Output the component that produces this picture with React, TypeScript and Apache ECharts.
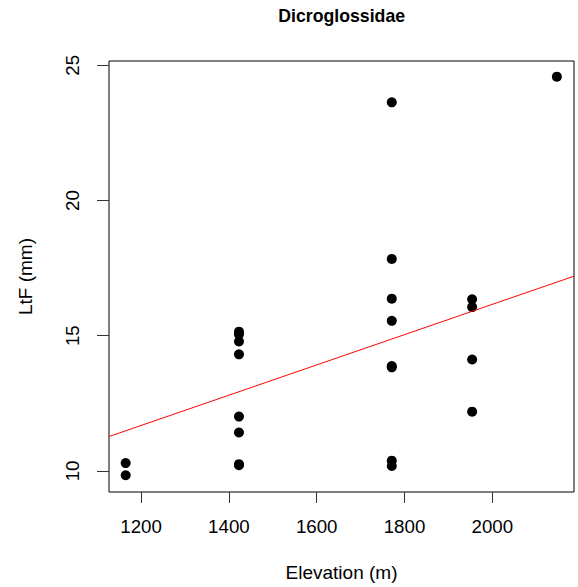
import React, { useEffect, useRef } from "react";
import * as echarts from "echarts";

const titleText = "Dicroglossidae";
const xName = "Elevation (m)";
const yName = "LtF (mm)";
const xTicks = [1200, 1400, 1600, 1800, 2000];
const yTicks = [10, 15, 20, 25];
const xRange = [1127, 2186];
const yRange = [9.22, 25.16];

const elevation = [
  1165, 1165,
  1423, 1423, 1423, 1423, 1423, 1423, 1423, 1423,
  1771, 1771, 1771, 1771, 1771, 1771, 1771, 1771,
  1954, 1954, 1954, 1954,
  2147,
];
const ltf = [
  10.29, 9.84,
  15.15, 15.05, 14.79, 14.31, 12.01, 11.42, 10.25, 10.21,
  23.63, 17.84, 16.37, 15.55, 13.88, 13.83, 10.38, 10.18,
  16.35, 16.06, 14.12, 12.19,
  24.58,
];
// fitted regression line: y = intercept + slope * x
const fitIntercept = 4.96;
const fitSlope = 0.0056;

const FONT = "'Liberation Sans', Arial, sans-serif";

export default function App() {
  const ref = useRef<HTMLDivElement>(null);
  useEffect(() => {
    if (!ref.current) return;
    document.body.style.margin = "0";
    const chart = echarts.init(ref.current, undefined, { renderer: "svg" });
    const points = elevation.map((x, i) => [x, ltf[i]]);
    const fitLine = xRange.map((x) => [x, fitIntercept + fitSlope * x]);
    chart.setOption({
      animation: false,
      backgroundColor: "#ffffff",
      textStyle: { fontFamily: FONT },
      grid: {
        left: 109,
        top: 61,
        width: 465,
        height: 431,
        show: true,
        borderColor: "#000",
        borderWidth: 1,
        backgroundColor: "transparent",
      },
      graphic: [
        {
          type: "text",
          x: 341.7,
          y: 16,
          style: {
            text: titleText,
            fontFamily: FONT,
            fontWeight: "bold",
            fontSize: 17.7,
            fill: "#000",
            align: "center",
            verticalAlign: "middle",
          },
        },
      ],
      xAxis: {
        type: "value",
        min: xRange[0],
        max: xRange[1],
        name: xName,
        nameLocation: "middle",
        nameGap: 71,
        nameTextStyle: { fontFamily: FONT, fontSize: 19, color: "#000" },
        axisLine: { show: false },
        splitLine: { show: false },
        axisTick: {
          show: true,
          inside: false,
          length: 11,
          customValues: xTicks,
          lineStyle: { color: "#333", width: 1 },
        },
        axisLabel: {
          show: true,
          customValues: xTicks,
          formatter: (v: number) => String(v),
          margin: 25,
          fontFamily: FONT,
          fontSize: 18.7,
          color: "#000",
        },
      },
      yAxis: {
        type: "value",
        min: yRange[0],
        max: yRange[1],
        name: yName,
        nameLocation: "middle",
        nameGap: 74,
        nameRotate: 90,
        nameTextStyle: { fontFamily: FONT, fontSize: 19, color: "#000" },
        axisLine: { show: false },
        splitLine: { show: false },
        axisTick: {
          show: true,
          inside: false,
          length: 12,
          customValues: yTicks,
          lineStyle: { color: "#333", width: 1 },
        },
        axisLabel: {
          show: true,
          customValues: yTicks,
          formatter: (v: number) => String(v),
          rotate: 90,
          margin: 27,
          fontFamily: FONT,
          fontSize: 18.7,
          color: "#000",
        },
      },
      series: [
        {
          type: "scatter",
          data: points,
          symbol: "circle",
          symbolSize: 10,
          itemStyle: { color: "#000", opacity: 1 },
          z: 2,
        },
        {
          type: "line",
          data: fitLine,
          symbol: "none",
          lineStyle: { color: "#ff0000", width: 1 },
          clip: true,
          z: 3,
        },
      ],
    });
    return () => chart.dispose();
  }, []);
  return <div ref={ref} style={{ width: 578, height: 587 }} />;
}
